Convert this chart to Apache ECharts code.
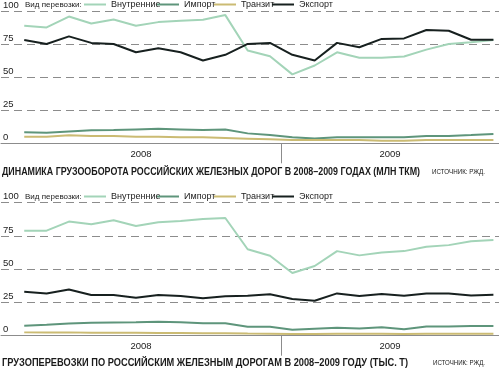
<!DOCTYPE html>
<html>
<head>
<meta charset="utf-8">
<script src="https://cdn.jsdelivr.net/npm/echarts@6/dist/echarts.min.js"></script>
<style>
html,body{margin:0;padding:0;background:#fff;}
#c{width:499px;height:370px;}
</style>
</head>
<body>
<div id="c"></div>
<script>
// ---- data ----
var years = ['2008', '2009'];
var months2008 = 12; // Jan..Dec 2008, then Jan..Oct 2009
var seriesNames = ['Внутренние', 'Импорт', 'Транзит', 'Экспорт'];
var yTicks = [0, 25, 50, 75, 100];

// Грузооборот (млн ткм)
var turnDomestic = [88.9, 87.6, 95.8, 90.6, 93.6, 88.9, 91.6, 92.6, 93.4, 96.9, 70.1, 65.8, 52.1, 58.8, 68.8, 64.6, 64.6, 65.6, 70.8, 75.1, 76.3, 78.1];
var turnImport   = [8.3, 8.0, 9.0, 9.8, 10.0, 10.5, 11.0, 10.5, 10.0, 10.5, 7.5, 6.2, 4.5, 3.7, 4.5, 4.5, 4.5, 4.5, 5.5, 5.5, 6.2, 7.0];
var turnTransit  = [5.0, 5.0, 6.0, 5.5, 5.5, 5.0, 5.0, 4.5, 4.5, 4.0, 3.5, 3.0, 2.5, 2.5, 2.5, 2.5, 2.0, 2.0, 2.5, 2.5, 2.5, 2.5];
var turnExport   = [78.1, 75.1, 80.8, 75.9, 75.1, 68.8, 71.8, 68.8, 62.6, 66.9, 75.1, 75.9, 66.9, 62.6, 75.9, 72.6, 78.9, 79.3, 85.6, 85.1, 78.3, 78.3];

// Грузоперевозки (тыс. т)
var volDomestic = [79.0, 79.0, 85.8, 83.8, 86.8, 82.5, 85.3, 86.3, 87.8, 88.5, 65.0, 60.1, 47.1, 52.4, 63.6, 60.4, 62.6, 63.6, 66.9, 68.1, 71.0, 72.0];
var volImport   = [7.5, 8.2, 9.2, 9.8, 10.0, 10.2, 10.5, 10.2, 9.3, 9.3, 6.8, 6.8, 4.5, 5.3, 6.0, 5.5, 6.3, 4.8, 7.0, 7.0, 7.3, 7.3];
var volTransit  = [2.5, 2.4, 2.5, 2.3, 2.2, 2.2, 2.0, 2.0, 1.9, 1.8, 1.6, 1.5, 1.3, 1.3, 1.4, 1.4, 1.4, 1.3, 1.4, 1.5, 1.5, 1.5];
var volExport   = [33.0, 31.8, 34.8, 30.6, 30.6, 28.6, 30.6, 29.8, 28.1, 29.6, 30.0, 31.1, 27.6, 26.3, 31.8, 29.8, 31.3, 30.0, 31.8, 31.8, 30.3, 30.8];

var title1 = 'ДИНАМИКА ГРУЗООБОРОТА РОССИЙСКИХ ЖЕЛЕЗНЫХ ДОРОГ В 2008–2009 ГОДАХ (МЛН ТКМ)';
var title2 = 'ГРУЗОПЕРЕВОЗКИ ПО РОССИЙСКИМ ЖЕЛЕЗНЫМ ДОРОГАМ В 2008–2009 ГОДУ (ТЫС. Т)';
var sourceText = 'ИСТОЧНИК: РЖД.';
var legendLead = 'Вид перевозки:';

// ---- styles / layout ----
var FAM = '"Liberation Sans", Arial, sans-serif';
var colors = {'Внутренние': '#a3d4b8', 'Импорт': '#5e957b', 'Транзит': '#cbbb73', 'Экспорт': '#17201f'};
var legendIconX = [85, 158, 215, 273];
var X_MIN = -1.04, X_MAX = 21.25;
var split = months2008 - 0.5;
var yearCenters = [(X_MIN + split) / 2, (split + X_MAX) / 2];

function pts(arr) { return arr.map(function (v, i) { return [i, v]; }); }

var measureCtx = document.createElement('canvas').getContext('2d');
function fitText(id, text, x, y, targetW, size, weight) {
  var font = (weight || 'normal') + ' ' + size + 'px ' + FAM;
  measureCtx.font = font;
  var w = measureCtx.measureText(text).width;
  var s = Math.min(1, targetW / w);
  return {
    type: 'text', id: id, x: x, y: y, scaleX: s, scaleY: 1, silent: true, z: 100,
    style: {text: text, font: font, fill: '#1a1a1a', align: 'left', verticalAlign: 'middle'}
  };
}

var chart = echarts.init(document.getElementById('c'), null, {renderer: 'canvas'});

function xAxis(gi) {
  return {
    type: 'value', gridIndex: gi, min: X_MIN, max: X_MAX,
    axisLine: {show: true, lineStyle: {color: '#8c8c8c', width: 1}},
    axisTick: {show: true, customValues: [split], length: 20, inside: false, lineStyle: {color: '#8c8c8c', width: 1}},
    axisLabel: {show: true, customValues: yearCenters, margin: 6, fontFamily: FAM, fontSize: 9.5, color: '#222',
      formatter: function (v) { return v < split ? years[0] : years[1]; }},
    splitLine: {show: false}
  };
}
function yAxis(gi) {
  return {
    type: 'value', gridIndex: gi, min: yTicks[0], max: yTicks[yTicks.length - 1], interval: 25,
    axisLine: {show: false}, axisTick: {show: false},
    axisLabel: {inside: true, margin: 2, verticalAlign: 'bottom', align: 'left', padding: [0, 0, 1, 0],
      fontFamily: FAM, fontSize: 9.5, color: '#222'},
    splitLine: {show: true, lineStyle: {color: '#8c8c8c', type: [8, 5], width: 1}}
  };
}
function mkSeries(gi, arrs) {
  return seriesNames.map(function (n, k) {
    return {
      name: n, type: 'line', xAxisIndex: gi, yAxisIndex: gi, data: pts(arrs[k]),
      showSymbol: false, symbol: 'none', smooth: false,
      lineStyle: {color: colors[n], width: 2}, itemStyle: {color: colors[n]},
      z: n === 'Внутренние' ? 3 : 4
    };
  });
}
function legends(top) {
  return seriesNames.map(function (n, k) {
    return {
      data: [n], left: legendIconX[k] - 1, top: top, icon: 'rect', itemWidth: 22, itemHeight: 2,
      selectedMode: false, padding: 0,
      textStyle: {fontFamily: FAM, fontSize: 9, color: '#222'}
    };
  });
}
function leadTitle(top) {
  return {text: legendLead, left: 25, top: top, padding: 0,
    textStyle: {fontFamily: FAM, fontSize: 8, fontWeight: 'normal', color: '#222'}};
}

var option = {
  animation: false,
  backgroundColor: '#fff',
  title: [leadTitle(0.5), leadTitle(193)],
  legend: legends(0).concat(legends(192)),
  grid: [
    {left: 0, right: 0, top: 10.3, height: 133, containLabel: false},
    {left: 0, right: 0, top: 202.7, height: 133, containLabel: false}
  ],
  xAxis: [xAxis(0), xAxis(1)],
  yAxis: [yAxis(0), yAxis(1)],
  series: mkSeries(0, [turnDomestic, turnImport, turnTransit, turnExport])
    .concat(mkSeries(1, [volDomestic, volImport, volTransit, volExport])),
  graphic: {
    elements: [{
      type: 'group', id: 'texts', x: 0, y: 0,
      children: [
        fitText('t1', title1, 2, 171.5, 418, 11, 'bold'),
        fitText('s1', sourceText, 432, 172, 53, 7.5),
        fitText('t2', title2, 2, 362.8, 406, 11, 'bold'),
        fitText('s2', sourceText, 433, 363, 52, 7.5)
      ]
    }]
  }
};
chart.setOption(option);
</script>
</body>
</html>
